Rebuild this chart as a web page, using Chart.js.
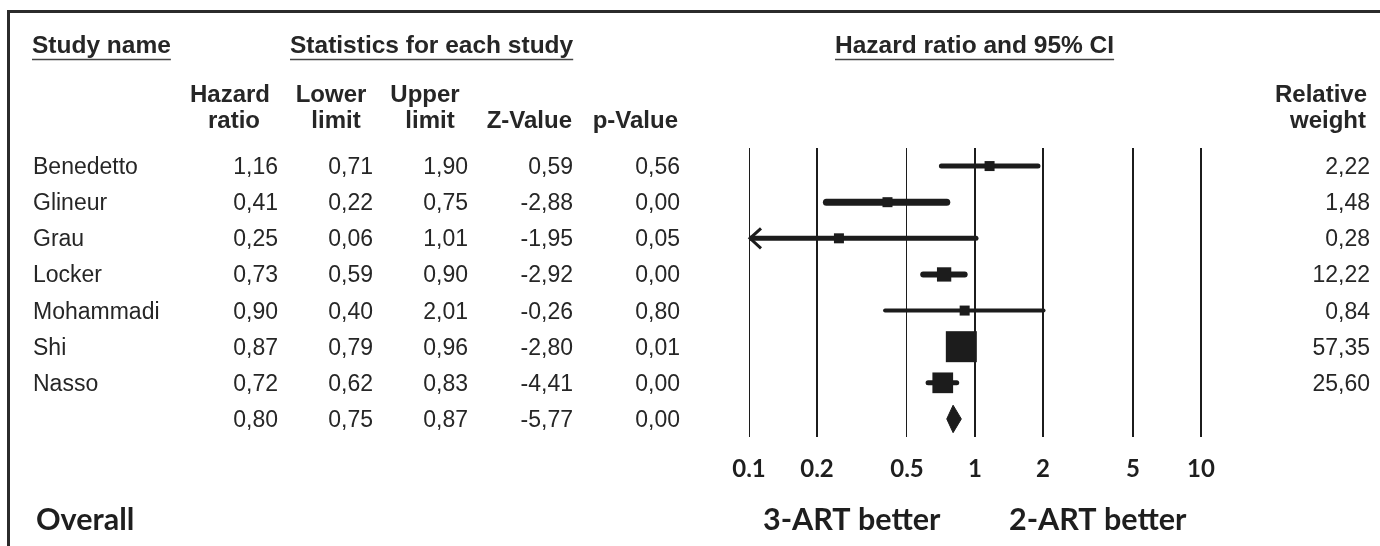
<!DOCTYPE html>
<html>
<head>
<meta charset="utf-8">
<script src="https://cdn.jsdelivr.net/npm/chart.js@4.4.1/dist/chart.umd.min.js"></script>
<style>
  html, body { margin: 0; padding: 0; background: #fff; }
  #wrap { width: 1380px; height: 546px; }
</style>
</head>
<body>
<div id="wrap"><canvas id="forest" width="1380" height="546"></canvas></div>
<script>
// values
const studies = ['Benedetto', 'Glineur', 'Grau', 'Locker', 'Mohammadi', 'Shi', 'Nasso'];
const hazardRatio = [1.16, 0.41, 0.25, 0.73, 0.90, 0.87, 0.72];
const lowerLimit = [0.71, 0.22, 0.06, 0.59, 0.40, 0.79, 0.62];
const upperLimit = [1.90, 0.75, 1.01, 0.90, 2.01, 0.96, 0.83];
const zValue = [0.59, -2.88, -1.95, -2.92, -0.26, -2.80, -4.41];
const pValue = [0.56, 0.00, 0.05, 0.00, 0.80, 0.01, 0.00];
const relWeight = [2.22, 1.48, 0.28, 12.22, 0.84, 57.35, 25.60];

// pooled estimate (last row)
const overallHR = 0.80;
const overallLower = 0.75;
const overallUpper = 0.87;
const overallZ = -5.77;
const overallP = 0.00;

const xTicks = [0.1, 0.2, 0.5, 1, 2, 5, 10];
const xTickLabels = ['0,1', '0,2', '0,5', '1', '2', '5', '10'];

// styling
const INK = '#1c1c1c';
const TEXT = '#262626';
const ciWidth = [5, 7, 5, 6, 4, 4, 5];
const fmt = v => v.toFixed(2).replace('.', ',');
const markerSide = w => Math.max(10, 31 * Math.sqrt(w / 57.35));

const datasets = [];

// study squares, area follows relative weight
datasets.push({
  label: 'Studies',
  data: hazardRatio.map((v, i) => ({ x: v, y: i })),
  pointStyle: 'rect',
  pointRadius: relWeight.map(w => markerSide(w) / Math.SQRT2),
  pointBackgroundColor: INK,
  pointBorderWidth: 0,
  showLine: false
});

// summary diamond
const overallRow = studies.length;
datasets.push({
  label: 'Overall',
  data: [
    { x: overallLower, y: overallRow },
    { x: overallHR, y: overallRow - 0.38 },
    { x: overallUpper, y: overallRow },
    { x: overallHR, y: overallRow + 0.38 },
    { x: overallLower, y: overallRow }
  ],
  showLine: true,
  fill: 'shape',
  backgroundColor: INK,
  borderColor: INK,
  borderWidth: 1,
  pointRadius: 0,
  tension: 0
});

// confidence intervals
studies.forEach((name, i) => {
  datasets.push({
    label: name + ' CI',
    data: [{ x: lowerLimit[i], y: i }, { x: upperLimit[i], y: i }],
    showLine: true,
    borderColor: INK,
    borderWidth: ciWidth[i],
    borderCapStyle: 'round',
    pointRadius: 0,
    clip: 0
  });
});

const tablePlugin = {
  id: 'forestTable',
  afterDraw(chart) {
    const { ctx, chartArea, scales } = chart;
    const yOf = i => scales.y.getPixelForValue(i);
    ctx.save();

    // frame (left and top edges)
    ctx.strokeStyle = '#2b2b2b';
    ctx.lineWidth = 3;
    ctx.beginPath();
    ctx.moveTo(8.5, 546);
    ctx.lineTo(8.5, 11.5);
    ctx.lineTo(1380, 11.5);
    ctx.stroke();

    // arrow heads where the CI runs off the axis
    ctx.strokeStyle = INK;
    ctx.lineWidth = 3;
    studies.forEach((s, i) => {
      if (lowerLimit[i] < scales.x.min) {
        const x0 = chartArea.left + 1, y = yOf(i);
        ctx.beginPath();
        ctx.moveTo(x0 + 11, y - 10);
        ctx.lineTo(x0, y);
        ctx.lineTo(x0 + 11, y + 10);
        ctx.stroke();
      }
    });

    ctx.fillStyle = TEXT;
    ctx.textBaseline = 'alphabetic';

    // underlined group headers
    ctx.font = 'bold 24.5px "Liberation Sans", Arial, sans-serif';
    ctx.textAlign = 'left';
    ctx.strokeStyle = '#444';
    ctx.lineWidth = 1.5;
    [['Study name', 32], ['Statistics for each study', 290], ['Hazard ratio and 95% CI', 835]].forEach(([t, x]) => {
      ctx.fillText(t, x, 53);
      const w = ctx.measureText(t).width;
      ctx.beginPath();
      ctx.moveTo(x, 59.5);
      ctx.lineTo(x + w, 59.5);
      ctx.stroke();
    });

    // column headers
    ctx.font = 'bold 24px "Liberation Sans", Arial, sans-serif';
    ctx.textAlign = 'center';
    ctx.fillText('Hazard', 230, 102);
    ctx.fillText('ratio', 234, 128);
    ctx.fillText('Lower', 331, 102);
    ctx.fillText('limit', 336, 128);
    ctx.fillText('Upper', 425, 102);
    ctx.fillText('limit', 430, 128);
    ctx.textAlign = 'right';
    ctx.fillText('Z-Value', 572, 128);
    ctx.fillText('p-Value', 678, 128);
    ctx.fillText('Relative', 1367, 102);
    ctx.fillText('weight', 1366, 128);

    // table rows
    const cols = [278, 373, 468, 573, 680];
    ctx.font = '23px "Liberation Sans", Arial, sans-serif';
    studies.forEach((name, i) => {
      const y = yOf(i) + 8;
      ctx.textAlign = 'left';
      ctx.fillText(name, 33, y);
      ctx.textAlign = 'right';
      [hazardRatio[i], lowerLimit[i], upperLimit[i], zValue[i], pValue[i]].forEach((v, c) => {
        ctx.fillText(fmt(v), cols[c], y);
      });
      ctx.fillText(fmt(relWeight[i]), 1370, y);
    });
    const yo = yOf(overallRow) + 8;
    [overallHR, overallLower, overallUpper, overallZ, overallP].forEach((v, c) => {
      ctx.fillText(fmt(v), cols[c], yo);
    });

    // footer labels
    ctx.font = 'bold 30.5px Lato, "Open Sans", sans-serif';
    ctx.textAlign = 'left';
    ctx.fillStyle = '#1e1e1e';
    ctx.fillText('Overall', 36, 530);
    ctx.fillText('3-ART better', 763, 530);
    ctx.fillText('2-ART better', 1009, 530);

    ctx.restore();
  }
};

new Chart(document.getElementById('forest'), {
  type: 'scatter',
  data: { datasets },
  options: {
    responsive: false,
    animation: false,
    layout: { padding: { left: 749, right: 179, top: 148, bottom: 69 } },
    plugins: {
      legend: { display: false },
      tooltip: { enabled: false }
    },
    scales: {
      x: {
        type: 'logarithmic',
        min: 0.1,
        max: 10,
        afterBuildTicks: scale => { scale.ticks = xTicks.map(v => ({ value: v })); },
        afterFit: scale => { scale.height = 40; },
        grid: {
          color: INK,
          lineWidth: c => (xTicks[c.index] === 0.1 || xTicks[c.index] === 0.5) ? 1 : 2,
          drawTicks: false
        },
        border: { display: false },
        ticks: {
          padding: 18,
          color: '#1e1e1e',
          autoSkip: false,
          maxRotation: 0,
          font: { family: 'Lato, "Open Sans", sans-serif', weight: 'bold', size: 24 },
          callback: (v, i) => xTickLabels[i]
        }
      },
      y: {
        type: 'linear',
        min: -0.5,
        max: 7.5,
        reverse: true,
        display: false
      }
    }
  },
  plugins: [tablePlugin]
});
</script>
</body>
</html>
